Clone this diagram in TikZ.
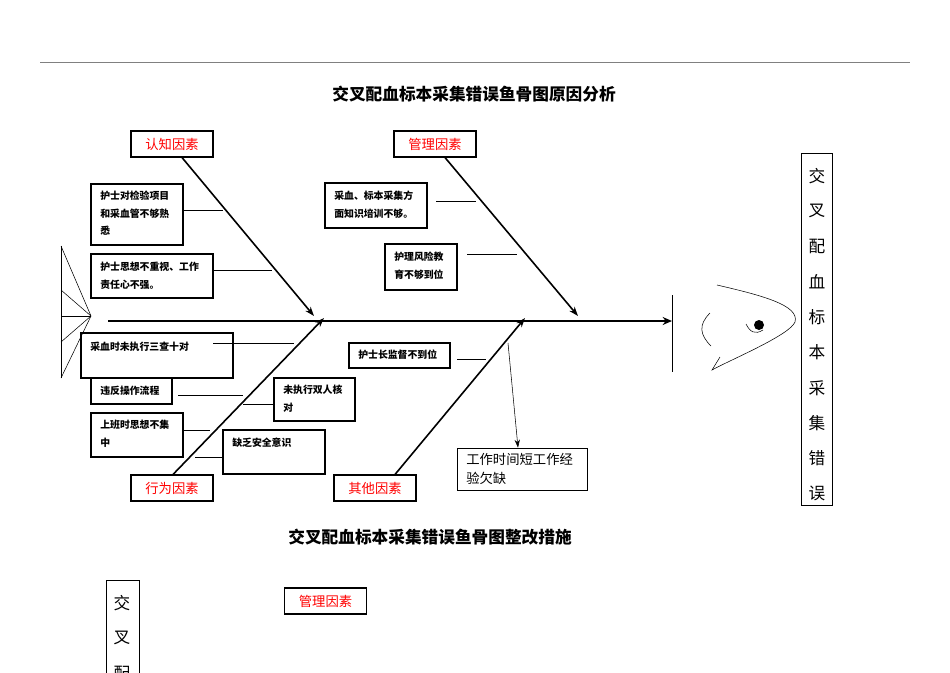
\documentclass[tikz,border=0pt]{standalone}
\usepackage{fontspec}
\setmainfont{Noto Sans CJK SC}
\usetikzlibrary{arrows.meta}
\begin{document}
\begin{tikzpicture}[x=0.75pt,y=-0.75pt,
  ctext/.style={font=\fontsize{7.4}{13}\selectfont\bfseries,align=left,anchor=north west,inner sep=0pt},
  cat/.style={draw,thick,fill=white,text=red,font=\fontsize{10}{12}\selectfont,minimum width=61.5pt,minimum height=19.5pt,inner sep=0pt},
  bone/.style={line width=1.2pt,-{Stealth[length=7pt,width=5pt]}},
  tick/.style={thin}]
\useasboundingbox (0,0) rectangle (950,672);
\clip (0,0) rectangle (950,672);
\draw[gray] (40,62) -- (910,62);
\node[font=\fontsize{12.5}{14}\selectfont\bfseries] (t1) at (474,94) {交叉配血标本采集错误鱼骨图原因分析};
\node[font=\fontsize{12.5}{14}\selectfont\bfseries] (t2) at (430,537) {交叉配血标本采集错误鱼骨图整改措施};
% spine
\coordinate (s0) at (108,321); \coordinate (s1) at (672,321);
\draw[line width=2pt,-{Stealth[length=7pt,width=6pt]}] (s0) -- (s1);
\draw[thin] (672,295) -- (672,372);
% tail
\coordinate (tp) at (91,316);
\draw[thin] (61,246) -- (61,378);
\foreach \y in {246,290,316,342,378} \draw[thin] (61,\y) -- (tp);
% head
\draw[thin] (717,285) .. controls (760,295) and (800,305) .. (795,322) .. controls (790,335) and (730,360) .. (712,370) -- (720,357);
\draw[thin] (710,313) .. controls (698,325) and (700,335) .. (711,346);
\fill (759,325) circle (5);
\draw[thin] (746,324) .. controls (750,332) and (755,335) .. (763,330);
% right title box
\draw[thin] (801,153) rectangle (832,505);
\foreach \c [count=\i from 0] in {交,叉,配,血,标,本,采,集,错,误}
  \node[font=\fontsize{12.5}{14}\selectfont] (v\i) at (817,176+35.3*\i) {\c};
% category boxes
\node[cat] (c1) at (172,144) {认知因素};
\node[cat] (c2) at (435,144) {管理因素};
\node[cat] (c3) at (172,488) {行为因素};
\node[cat] (c4) at (375,488) {其他因素};
\coordinate (j1) at (314,316); \coordinate (j2) at (578,316);
\coordinate (j3) at (324,318); \coordinate (j4) at (525,318);
\draw[bone] (c1.south) ++(10,0) -- (j1);
\draw[bone] (c2.south) ++(10,0) -- (j2);
\draw[bone] (c3.north) ++(1,0) -- (j3);
\draw[bone] (c4.north) ++(20,0) -- (j4);
\coordinate (k) at (508,343);
% cause boxes
\draw[thick] (91,184) rectangle (183,245);
\node[ctext] (a1) at (100,191) {护士对检验项目\\和采血管不够熟\\悉};
\draw[tick] (183,210) -- (223,210);
\draw[thick] (91,254) rectangle (213,298);
\node[ctext] (a2) at (100,262) {护士思想不重视、工作\\责任心不强。};
\draw[tick] (213,270) -- (272,270);
\draw[thick] (81,333) rectangle (233,378);
\node[ctext] (a3) at (90,342) {采血时未执行三查十对};
\draw[tick] (213,343) -- (294,343);
\draw[thick] (91,378) rectangle (172,404);
\node[ctext] (a4) at (100,386) {违反操作流程};
\draw[tick] (178,395) -- (243,395);
\draw[thick] (274,378) rectangle (355,421);
\node[ctext] (a5) at (283,385) {未执行双人核\\对};
\draw[tick] (243,404) -- (274,404);
\draw[thick] (91,413) rectangle (183,457);
\node[ctext] (a6) at (100,420) {上班时思想不集\\中};
\draw[tick] (183,430) -- (210,430);
\draw[thick] (223,430) rectangle (325,474);
\node[ctext] (a7) at (232,438) {缺乏安全意识};
\draw[tick] (195,457) -- (223,457);
\draw[thick] (325,183) rectangle (427,228);
\node[ctext] (b1) at (334,191) {采血、标本采集方\\面知识培训不够。};
\draw[tick] (436,201) -- (476,201);
\draw[thick] (385,244) rectangle (457,290);
\node[ctext] (b2) at (394,252) {护理风险教\\育不够到位};
\draw[tick] (467,254) -- (517,254);
\draw[thick] (349,343) rectangle (450,368);
\node[ctext] (b3) at (358,350) {护士长监督不到位};
\draw[tick] (457,359) -- (486,359);
\node[draw,thick,minimum width=98pt,minimum height=32pt,inner sep=0pt] (b4) at (522.5,469.5) {};
\node[font=\fontsize{10}{14}\selectfont,align=left,anchor=north west,inner sep=0pt] at (466,453) {工作时间短工作经\\验欠缺};
\draw[thin,-{Stealth[length=6pt,width=4pt]}] (k) -- (b4.north -| 518,0);
% bottom
\draw[thin] (106,580) rectangle (139,700);
\foreach \c [count=\i from 0] in {交,叉,配}
  \node[font=\fontsize{12.5}{14}\selectfont] (w\i) at (122,603+35*\i) {\c};
\node[cat] (c5) at (325.5,601) {管理因素};
\end{tikzpicture}
\end{document}
